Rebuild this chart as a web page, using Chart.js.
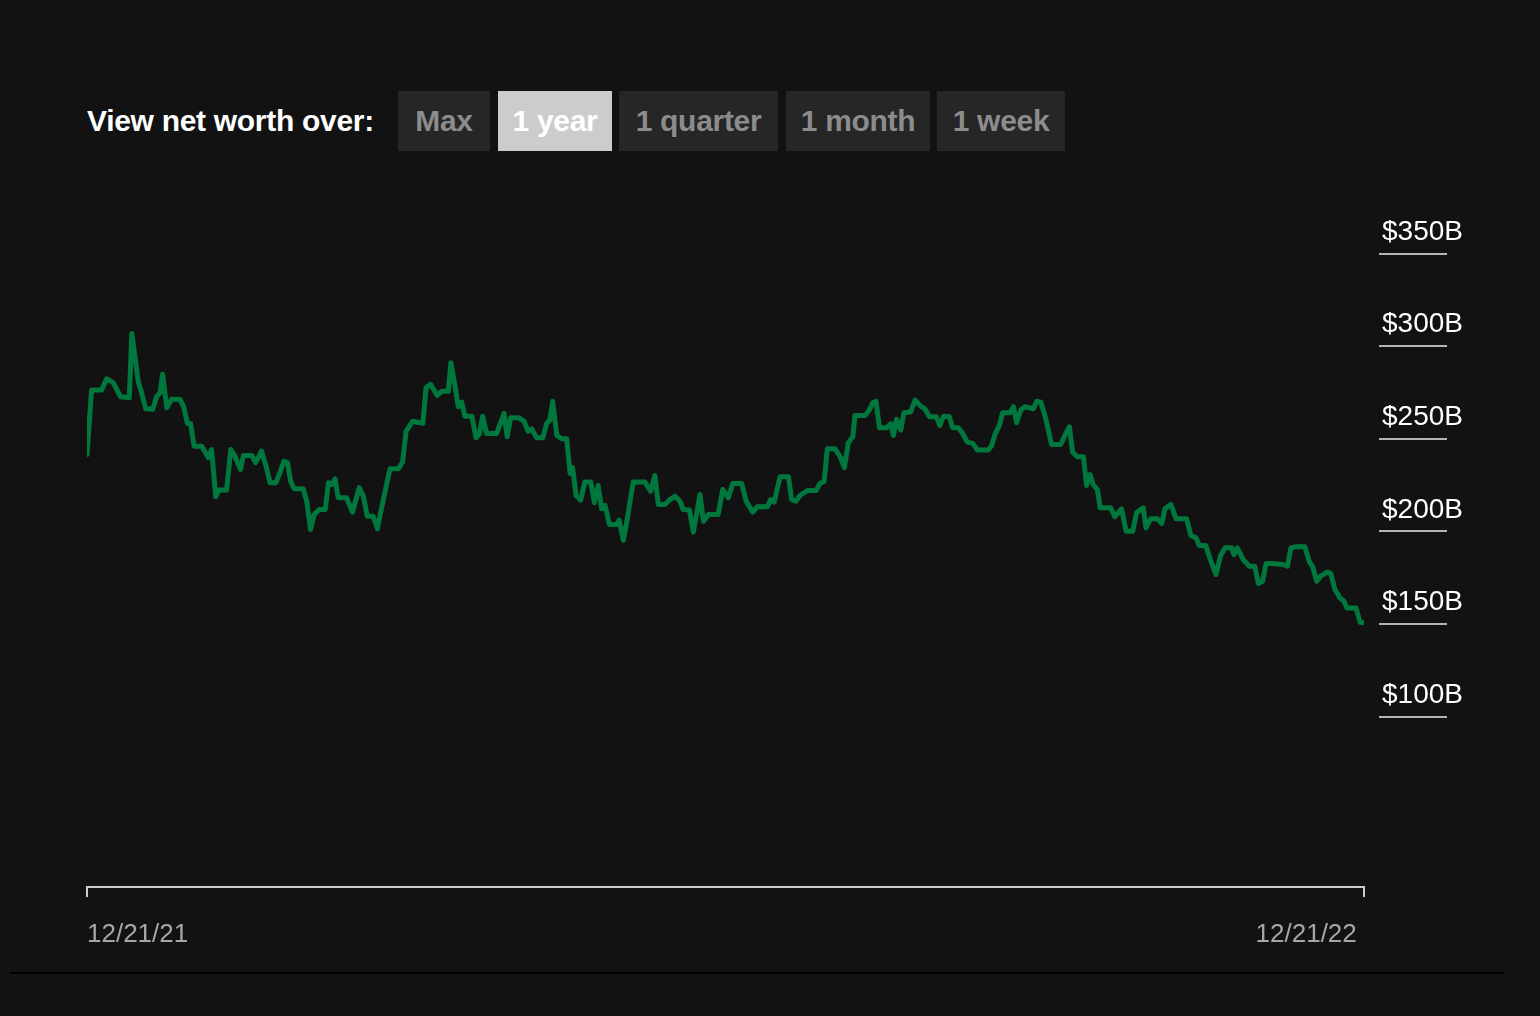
<!DOCTYPE html>
<html>
<head>
<meta charset="utf-8">
<script src="https://cdn.jsdelivr.net/npm/chart.js@4.4.1/dist/chart.umd.min.js"></script>
<style>
html,body{margin:0;padding:0;background:#121212;width:1540px;height:1016px;overflow:hidden;font-family:"Liberation Sans",Arial,sans-serif;}
#wrap{position:relative;width:1540px;height:1016px;}
#chart{position:absolute;left:0;top:0;}
.hdr{position:absolute;top:91px;height:60px;line-height:60px;font-size:30px;font-weight:bold;letter-spacing:-0.3px;white-space:nowrap;}
.lbl{left:87px;color:#ffffff;}
.btn{background:#262626;color:#8c8c8c;text-align:center;}
.btn.active{background:#cccccc;color:#ffffff;}
#rule{position:absolute;left:10px;top:972px;width:1494px;height:2px;background:#000;}
</style>
</head>
<body>
<div id="wrap">
  <div class="hdr lbl">View net worth over:</div>
  <div class="hdr btn" style="left:398px;width:92px;">Max</div>
  <div class="hdr btn active" style="left:498px;width:114px;">1 year</div>
  <div class="hdr btn" style="left:619px;width:159px;">1 quarter</div>
  <div class="hdr btn" style="left:786px;width:144px;">1 month</div>
  <div class="hdr btn" style="left:937px;width:128px;">1 week</div>
  <canvas id="chart" width="1540" height="1016"></canvas>
  <div id="rule"></div>
</div>
<script>
// Days since 12/21/21
const dayOffsets = [
  0,1.3,4.2,5.6,7.5,9.6,12.1,12.8,14.7,15.4,
  16.8,18.8,19.9,20.9,21.6,22.8,24.2,26.6,27.7,28.7,
  29.6,30.6,32.8,34.7,35.6,36.8,37.7,39.9,41.1,42.3,
  43.9,44.7,47.1,48.2,49.9,51.2,52.3,54.0,55.2,56.3,
  57.3,58.2,59.2,61.8,62.8,63.9,64.9,66.4,68.1,69.0,
  69.9,70.9,71.8,74.2,75.9,77.8,79.0,80.1,81.8,83.0,
  84.2,86.6,89.0,90.2,91.2,93.1,96.0,96.9,98.2,100.1,
  101.4,103.3,104.0,105.2,106.1,107.1,108.0,110.0,111.2,112.1,
  113.1,114.2,117.1,119.2,120.1,121.1,123.3,124.9,126.1,127.1,
  128.5,130.3,131.4,132.3,133.1,134.3,135.7,137.1,138.1,138.8,
  139.8,141.1,142.3,144.0,145.0,146.1,147.1,148.1,149.3,151.4,
  152.1,153.3,154.4,156.1,159.5,161.1,162.3,163.3,165.2,166.6,
  168.1,169.5,170.4,172.2,173.3,174.3,175.2,176.2,177.6,180.4,
  181.7,183.3,184.6,187.1,188.4,190.3,191.6,194.5,195.4,196.4,
  198.1,200.5,201.4,202.6,203.8,205.9,208.4,209.5,210.7,211.6,
  213.8,215.2,216.5,217.6,218.9,219.5,222.4,223.6,224.6,225.5,
  226.5,228.6,229.7,230.5,231.4,232.6,233.5,235.4,236.7,238.3,
  239.5,240.8,242.7,243.8,244.8,246.5,247.4,249.0,250.3,251.6,
  253.2,254.5,257.6,258.6,259.5,260.8,261.7,263.8,264.8,265.7,
  266.9,268.1,270.5,271.5,272.6,273.8,275.7,278.3,279.5,280.8,
  281.7,283.1,284.8,285.7,286.7,287.6,288.8,289.6,292.6,293.8,
  295.7,297.0,298.9,300.0,301.9,302.7,304.0,305.9,307.2,308.1,
  309.8,311.3,314.3,315.5,317.0,317.9,319.8,321.0,322.7,324.0,
  325.3,327.2,327.8,328.8,330.5,332.2,333.8,334.8,336.0,337.0,
  338.6,341.9,343.1,344.1,345.6,348.1,349.4,350.3,351.5,352.6,
  354.5,355.5,356.7,358.1,359.3,360.1,362.7,363.9,365
];
// Net worth, $ billions
const netWorthB = [
  241.5,276.3,276.3,282.4,280.3,272.7,272.2,306.9,280.3,276.3,
  266.2,265.9,272.7,274.9,284.8,266.8,271.3,271.3,266.8,258.3,
  258.3,246.0,246.0,239.8,244.2,218.7,222.3,222.3,244.2,240.6,
  233.4,241.0,241.0,237.1,243.3,235.2,226.3,226.3,232.0,237.9,
  237.1,227.1,223.0,223.0,216.3,201.0,209.1,211.8,211.8,226.3,
  225.3,228.4,218.2,218.2,210.4,223.6,219.0,208.2,208.2,201.4,
  212.7,233.8,233.8,237.4,254.1,259.5,258.3,277.6,279.4,273.4,
  275.7,275.7,291.1,278.4,267.3,269.8,262.2,262.2,250.6,252.3,
  262.2,252.9,252.9,263.7,251.1,261.4,261.4,259.5,254.1,255.4,
  250.6,250.6,258.3,260.1,270.3,251.8,250.0,250.0,231.3,234.4,
  219.4,216.9,226.6,226.6,215.5,224.8,212.2,214.0,203.7,203.7,
  206.1,195.2,206.4,226.6,226.6,221.7,230.2,214.5,214.5,217.2,
  219.0,216.3,211.8,211.5,199.6,210.0,219.9,205.5,209.1,209.1,
  222.6,218.2,225.9,225.9,216.3,210.4,213.3,213.3,217.2,215.8,
  229.5,229.5,217.2,216.3,219.4,222.1,222.1,225.9,227.1,244.6,
  244.6,240.6,234.4,247.9,251.1,262.6,262.6,265.5,269.5,270.3,
  256.0,256.0,258.1,251.8,260.5,254.7,264.1,264.4,270.9,267.6,
  266.2,261.9,261.9,257.2,262.2,261.9,256.0,256.0,252.9,248.2,
  247.5,243.9,243.9,246.4,252.3,257.2,264.1,264.1,267.3,258.7,
  265.5,267.3,266.2,270.3,269.8,262.6,246.9,246.9,251.8,256.5,
  242.8,240.3,240.3,224.8,230.7,225.3,222.6,212.7,212.7,207.9,
  212.2,200.1,200.1,210.0,212.7,201.9,206.8,206.8,204.3,212.2,
  214.5,206.8,206.8,197.8,196.5,192.4,192.4,185.2,176.7,187.0,
  191.1,191.1,187.5,191.1,184.8,181.2,181.2,171.9,173.1,182.7,
  182.7,182.1,181.2,191.1,191.7,191.7,183.4,181.2,173.1,175.8,
  178.0,177.3,168.6,164.1,162.3,158.7,158.7,150.9,150.6
];
const xTickDays = [0, 365];
const xTickLabels = ['12/21/21', '12/21/22'];
const yTickValues = [100, 150, 200, 250, 300, 350];
const yMin = 8, yMax = 380;

const FONT = "'Liberation Sans', Arial, sans-serif";

const underlinePlugin = {
  id: 'tickUnderlines',
  afterDraw(chart) {
    const s = chart.scales.y, ctx = chart.ctx;
    ctx.save();
    ctx.strokeStyle = '#b5b5b5';
    ctx.lineWidth = 2;
    s.ticks.forEach(t => {
      const y = Math.round(s.getPixelForValue(t.value));
      ctx.beginPath();
      ctx.moveTo(s.left + 15, y);
      ctx.lineTo(s.left + 83, y);
      ctx.stroke();
    });
    ctx.restore();
  }
};

new Chart(document.getElementById('chart'), {
  type: 'line',
  data: {
    datasets: [{
      data: dayOffsets.map((d, i) => ({ x: d, y: netWorthB[i] })),
      borderColor: '#00773c',
      borderWidth: 5,
      borderJoinStyle: 'round',
      borderCapStyle: 'round',
      pointRadius: 0,
      tension: 0,
      fill: false
    }]
  },
  options: {
    responsive: false,
    animation: false,
    devicePixelRatio: 1,
    layout: { padding: { left: 87, top: 198, right: 0, bottom: 69 } },
    plugins: { legend: { display: false }, tooltip: { enabled: false } },
    scales: {
      x: {
        type: 'linear',
        min: xTickDays[0],
        max: xTickDays[xTickDays.length - 1],
        afterBuildTicks: s => { s.ticks = xTickDays.map(v => ({ value: v })); },
        afterFit: s => { s.height = 60; s.paddingLeft = 0; s.paddingRight = 0; },
        grid: { display: true, drawOnChartArea: false, drawTicks: true, tickLength: 10, color: '#cccccc', lineWidth: 2 },
        border: { display: true, color: '#cccccc', width: 2 },
        ticks: {
          align: 'inner',
          maxRotation: 0,
          autoSkip: false,
          padding: 22,
          color: '#a6a6a6',
          font: { family: FONT, size: 26 },
          callback: (v, i) => i === xTickLabels.length - 1 ? xTickLabels[i] + ' ' : xTickLabels[i]
        }
      },
      y: {
        position: 'right',
        min: yMin,
        max: yMax,
        afterBuildTicks: s => { s.ticks = yTickValues.map(v => ({ value: v })); },
        afterFit: s => { s.width = 176; s.paddingTop = 0; s.paddingBottom = 0; },
        grid: { display: false, drawTicks: false },
        border: { display: false },
        ticks: {
          padding: 18,
          labelOffset: -21.5,
          color: '#ffffff',
          font: { family: FONT, size: 28 },
          callback: v => '$' + v + 'B'
        }
      }
    }
  },
  plugins: [underlinePlugin]
});
</script>
</body>
</html>
